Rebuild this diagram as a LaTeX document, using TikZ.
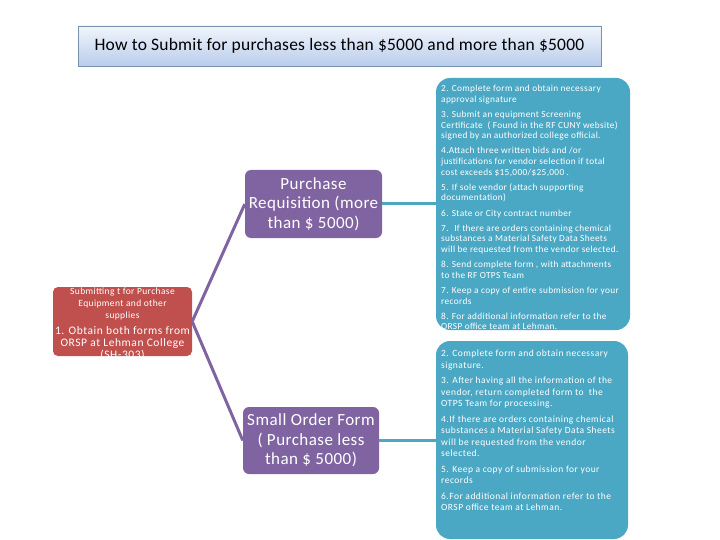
\documentclass[tikz,border=0pt]{standalone}
\usepackage{fontspec}
\setmainfont{Carlito}
\usepackage{tikz}
\definecolor{ostep}{RGB}{75,168,196}
\definecolor{oform}{RGB}{128,100,162}
\definecolor{ostart}{RGB}{192,80,77}
\definecolor{otitle}{RGB}{185,205,236}
\definecolor{oedge}{RGB}{120,145,175}
\tikzset{%
	titlebox/.style={draw=oedge, rectangle, top color=otitle!20, bottom color=otitle,%
		minimum width=523pt, minimum height=40pt, inner sep=0pt,%
		font=\fontsize{17.5}{21}\selectfont\addfontfeature{LetterSpace=1.3}},
	formbox/.style={rectangle, rounded corners=6pt, fill=oform, text=white, align=center,%
		minimum width=137pt, minimum height=68pt, inner sep=0pt,%
		font=\fontsize{17}{19.5}\selectfont\addfontfeature{LetterSpace=2.8}},
	startbox/.style={rectangle, rounded corners=5pt, fill=ostart, minimum width=139pt, minimum height=69pt},
	stepbox/.style={rectangle, rounded corners=14pt, fill=ostep, minimum width=194pt},
	steptext/.style={text=white, align=left, inner sep=0pt, anchor=north west},
	link/.style={draw=oform, line width=3pt},
	feed/.style={draw=ostep, line width=3pt}
}

\begin{document}
\begin{tikzpicture}[x=1pt, y=-1pt]
	\useasboundingbox (0,0) rectangle (720,540);
	\node[titlebox] (head) at (339.5,46) {How to Submit for purchases less than \$5000 and more than \$5000};
	\node[startbox] (start) at (122.5,321.5) {};
	\node[formbox] (pr) at (313.5,204) {Purchase\\Requisition (more\\than \$ 5000)};
	\node[formbox, minimum width=136pt, minimum height=67pt] (so) at (311,440.5) {Small Order Form\\( Purchase less\\than \$ 5000)};
	\node[stepbox, minimum height=252pt] (prsteps) at (533,204) {};
	\node[stepbox, minimum width=192pt, minimum height=198pt] (sosteps) at (532,440) {};

	% texts that run past their boxes are cut at the box edge
	\begin{scope}
		\clip[rounded corners=5pt] (start.south west) rectangle (start.north east);
		\node[text=white, align=center, inner sep=0pt] (starttext) at ([yshift=-2.5pt]start.center) {%
			\fontsize{9.5}{11}\selectfont\addfontfeature{LetterSpace=4} Submitting t for Purchase\\
			\fontsize{9.5}{11}\selectfont\addfontfeature{LetterSpace=4} Equipment and other\\
			\fontsize{9.5}{11}\selectfont\addfontfeature{LetterSpace=4} supplies\\[4.5pt]
			\fontsize{11.5}{13}\selectfont\addfontfeature{LetterSpace=5} 1. Obtain both forms from\\
			\fontsize{11.5}{13}\selectfont\addfontfeature{LetterSpace=5} ORSP at Lehman College\\
			\fontsize{11.5}{13}\selectfont\addfontfeature{LetterSpace=5} (SH-303)};
	\end{scope}
	\begin{scope}
		\clip[rounded corners=14pt] (prsteps.south west) rectangle (prsteps.north east);
		\node[steptext, font=\fontsize{9.3}{10.6}\selectfont\addfontfeature{LetterSpace=3.7}] (prlist) at (441,85) {%
			2. Complete form and obtain necessary\\
			approval signature\\[4.6pt]
			3. Submit an equipment Screening\\
			Certificate \ ( Found in the RF CUNY website)\\
			signed by an authorized college official.\\[4.6pt]
			4.Attach three written bids and /or\\
			justifications for vendor selection if total\\
			cost exceeds \$15,000/\$25,000 .\\[4.6pt]
			5. If sole vendor (attach supporting\\
			documentation)\\[4.6pt]
			6. State or City contract number\\[4.6pt]
			7. \ If there are orders containing chemical\\
			substances a Material Safety Data Sheets\\
			will be requested from the vendor selected.\\[4.6pt]
			8. Send complete form , with attachments\\
			to the RF OTPS Team\\[4.6pt]
			7. Keep a copy of entire submission for your\\
			records\\[4.6pt]
			8. For additional information refer to the\\
			ORSP office team at Lehman.};
	\end{scope}
	\node[steptext, font=\fontsize{9.5}{11.4}\selectfont\addfontfeature{LetterSpace=5}] (solist) at (441,350) {%
		2. Complete form and obtain necessary\\
		signature.\\[4.3pt]
		3. After having all the information of the\\
		vendor, return completed form to \ the\\
		OTPS Team for processing.\\[4.3pt]
		4.If there are orders containing chemical\\
		substances a Material Safety Data Sheets\\
		will be requested from the vendor\\
		selected.\\[4.3pt]
		5. Keep a copy of submission for your\\
		records\\[4.3pt]
		6.For additional information refer to the\\
		ORSP office team at Lehman.};

	\draw[link] (start.east) to (pr.west);
	\draw[link] (start.east) to (so.west);
	\draw[feed] (pr.east) to (prsteps.west |- pr.east);
	\draw[feed] (so.east) to (sosteps.west |- so.east);
\end{tikzpicture}
\end{document}
